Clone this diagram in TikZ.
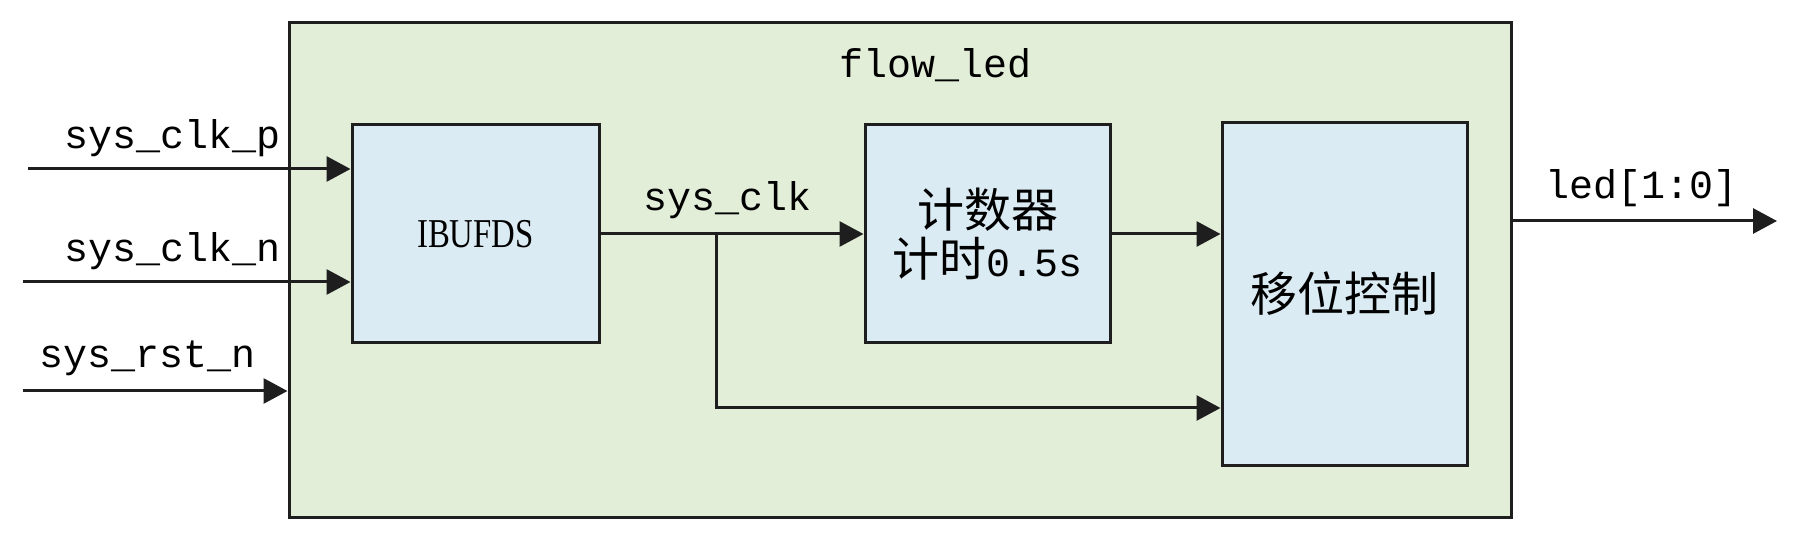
\documentclass[tikz,border=0pt]{standalone}
\usepackage{fontspec}
\usetikzlibrary{arrows.meta}
\newfontfamily\lmono{Liberation Mono}
\newfontfamily\cjk{Noto Sans CJK SC}
\newfontfamily\ibfont[FakeStretch=0.8]{Liberation Serif}
\definecolor{outerg}{RGB}{226,238,216}
\definecolor{innerb}{RGB}{219,235,243}
\definecolor{edgec}{RGB}{30,30,30}
\tikzset{
  blk/.style={draw=edgec, line width=3pt, fill=innerb, inner sep=0pt, anchor=center},
  lbl/.style={inner sep=0pt, anchor=base west, font=\lmono\fontsize{40}{48}\selectfont},
  arr/.style={draw=edgec, line width=3pt, -{Triangle[length=24pt,width=25pt]}},
  wire/.style={draw=edgec, line width=3pt},
}
\begin{document}
\begin{tikzpicture}[x=1pt,y=-1pt]
\useasboundingbox (0,0) rectangle (1794,534);
% outer module
\node[draw=edgec, line width=3pt, fill=outerg, minimum width=1222pt, minimum height=494pt, inner sep=0pt] (outer) at (900,270) {};
\node[lbl] (title) at (839,78) {flow\_led};
% inner blocks
\node[blk, minimum width=247pt, minimum height=218pt, font=\ibfont\fontsize{41}{48}\selectfont] (ibuf) at (475.5,234) {IBUFDS};
\node[blk, minimum width=245pt, minimum height=218pt, align=center] (cnt) at (987.5,234)
  {{\cjk\fontsize{47}{60}\selectfont 计数器}\\[4pt]{\cjk\fontsize{47}{60}\selectfont 计时}{\lmono\fontsize{40}{48}\selectfont 0.5s}};
\node[blk, minimum width=245pt, minimum height=342pt, font=\cjk\fontsize{47}{56}\selectfont] (shift) at (1344.5,294) {移位控制};
% input labels
\node[lbl] (lp) at (64,149) {sys\_clk\_p};
\node[lbl] (ln) at (64,262) {sys\_clk\_n};
\node[lbl] (lr) at (39,368) {sys\_rst\_n};
\node[lbl] (lc) at (643,211) {sys\_clk};
\node[lbl] (ll) at (1545,199) {led[1:0]};
% input coordinates
\coordinate (pin) at (28,169);
\coordinate (nin) at (23,282);
\coordinate (rin) at (23,391);
\coordinate (br) at (716,234);
\coordinate (brd) at (716,408);
\coordinate (ledout) at (1777,221);
% connectors
\draw[arr] (pin) -- (pin -| ibuf.west);
\draw[arr] (nin) -- (nin -| ibuf.west);
\draw[arr] (rin) -- (rin -| outer.west);
\draw[arr] (ibuf.east) -- (cnt.west);
\draw[arr] (cnt.east) -- (cnt.east -| shift.west);
\draw[arr] (br) -- (brd) -- (brd -| shift.west);
\draw[arr] (ledout -| outer.east) -- (ledout);
\end{tikzpicture}
\end{document}
